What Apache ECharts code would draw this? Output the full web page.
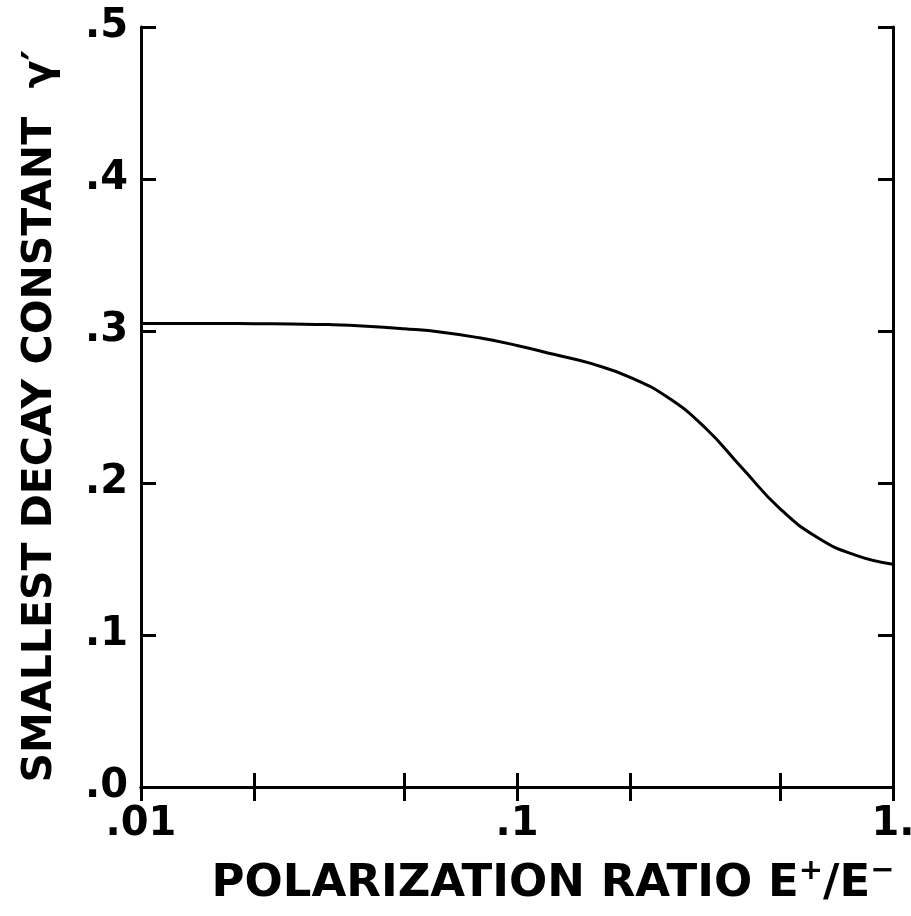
<!DOCTYPE html>
<html>
<head>
<meta charset="utf-8">
<script src="https://cdn.jsdelivr.net/npm/echarts@6/dist/echarts.min.js"></script>
<style>
  html, body { margin: 0; padding: 0; background: #fff; }
  #chart { width: 911px; height: 916px; }
</style>
</head>
<body>
<div id="chart"></div>
<script>
// Polarization ratio E+/E- (log scale) and the smallest decay constant gamma'
const ratio = [0.01, 0.0126, 0.0158, 0.02, 0.0251, 0.0316, 0.0398, 0.0501, 0.0631, 0.0794, 0.1, 0.126, 0.158, 0.2, 0.251, 0.316, 0.398, 0.501, 0.631, 0.794, 1.0];
const gamma = [0.305, 0.305, 0.305, 0.3048, 0.3046, 0.3042, 0.3032, 0.3015, 0.2992, 0.2955, 0.2905, 0.2845, 0.2785, 0.2695, 0.2565, 0.2365, 0.2095, 0.183, 0.164, 0.1525, 0.1465];

const xLabelValues = [0.01, 0.1, 1];
const xLabelText = ['.01', '.1', '1.'];
const xTickValues = [0.01, 0.02, 0.05, 0.1, 0.2, 0.5, 1];
const yLabelText = ['.0', '.1', '.2', '.3', '.4', '.5'];

const points = ratio.map((r, i) => [r, gamma[i]]);
const font = 'DejaVu Sans';
const ink = '#000';

const frameLine = { show: true, lineStyle: { color: ink, width: 3 } };
const tickStyle = { color: ink, width: 3 };

const chart = echarts.init(document.getElementById('chart'), null, { renderer: 'canvas' });
chart.setOption({
  backgroundColor: '#fff',
  animation: false,
  grid: { left: 141, right: 18, top: 27, bottom: 129, containLabel: false, outerBoundsMode: 'none' },
  xAxis: [
    {
      type: 'log', logBase: 10, min: 0.01, max: 1,
      position: 'bottom',
      axisLine: frameLine,
      splitLine: { show: false },
      axisTick: { show: true, inside: true, length: 14, lineStyle: tickStyle, customValues: xTickValues },
      axisLabel: {
        show: true, margin: 18, color: ink, fontFamily: font, fontWeight: 'bold', fontSize: 40,
        customValues: xLabelValues,
        formatter: v => xLabelText[xLabelValues.findIndex(x => Math.abs(x - v) < 1e-9)] ?? ''
      },
      name: '{t|POLARIZATION RATIO E}{s|+}{t|/E}{s|\u2212}',
      nameLocation: 'middle', nameGap: 70,
      nameTextStyle: {
        padding: [0, 0, 0, 72],
        rich: {
          t: { fontFamily: font, fontSize: 45, fontWeight: 'bold', color: ink, verticalAlign: 'bottom', lineHeight: 50 },
          s: { fontFamily: font, fontSize: 29, fontWeight: 'bold', color: ink, verticalAlign: 'top', lineHeight: 50, padding: [0, 0, 19, 0] }
        }
      }
    },
    {
      type: 'log', logBase: 10, min: 0.01, max: 1,
      position: 'top',
      axisLine: frameLine,
      splitLine: { show: false },
      axisTick: { show: true, inside: true, length: 14, lineStyle: tickStyle, customValues: xTickValues },
      axisLabel: { show: false }
    }
  ],
  yAxis: [
    {
      type: 'value', min: 0, max: 0.5, interval: 0.1,
      position: 'left',
      axisLine: frameLine,
      splitLine: { show: false },
      axisTick: { show: true, inside: true, length: 15, lineStyle: tickStyle },
      axisLabel: {
        show: true, margin: 13, color: ink, fontFamily: font, fontWeight: 'bold', fontSize: 40,
        formatter: v => yLabelText[Math.round(v * 10)]
      },
      name: 'SMALLEST DECAY CONSTANT  \u03b3\u2032',
      nameLocation: 'middle', nameGap: 80, nameRotate: 90,
      nameTextStyle: { fontFamily: font, fontSize: 41, fontWeight: 'bold', color: ink, padding: [0, 18, 0, 0] }
    },
    {
      type: 'value', min: 0, max: 0.5, interval: 0.1,
      position: 'right',
      axisLine: frameLine,
      splitLine: { show: false },
      axisTick: { show: true, inside: true, length: 15, lineStyle: tickStyle },
      axisLabel: { show: false }
    }
  ],
  series: [
    {
      type: 'line',
      xAxisIndex: 0, yAxisIndex: 0,
      data: points,
      smooth: 0.5,
      showSymbol: false,
      lineStyle: { color: ink, width: 3 }
    }
  ]
});
</script>
</body>
</html>
